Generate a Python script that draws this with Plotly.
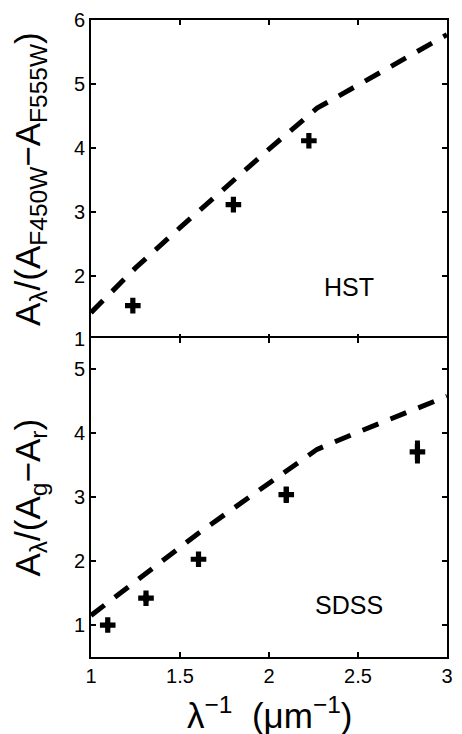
import plotly.graph_objects as go

# Measured reddening ratios (crosses)
hst_x = [1.235, 1.80, 2.224]
hst_y = [1.53, 3.11, 4.11]

sdss_x = [1.094, 1.309, 1.604, 2.097, 2.834]
sdss_y = [1.00, 1.42, 2.03, 3.04, 3.71]
sdss_err = [0.05, 0.06, 0.08, 0.13, 0.18]

# Extinction-law predictions (dashed curves)
hst_model_x = [1.0, 1.25, 1.5, 1.8, 2.0, 2.27, 2.5, 3.0]
hst_model_y = [1.42, 2.12, 2.75, 3.50, 3.98, 4.62, 4.98, 5.77]

sdss_model_x = [1.0, 1.3, 1.6, 2.0, 2.27, 2.5, 3.0]
sdss_model_y = [1.15, 1.80, 2.43, 3.22, 3.75, 4.02, 4.58]

FONT = "Liberation Sans, Arial, sans-serif"
dash_line = dict(color="black", width=5, dash="17px,13px")
cross = dict(symbol="cross", size=13, color="black", line=dict(width=0))

W, H = 462, 734
M = dict(l=91, r=9, t=15, b=77)
LW = 2
# axis lines sit outside the plot area; overlap the two panels by one
# line width so the shared border is drawn as a single line
half = (LW / 2) / (H - M["t"] - M["b"])

fig = go.Figure()

fig.add_trace(go.Scatter(x=hst_model_x, y=hst_model_y, mode="lines",
                         line=dash_line, xaxis="x", yaxis="y"))
fig.add_trace(go.Scatter(x=hst_x, y=hst_y, mode="markers",
                         marker=cross, xaxis="x", yaxis="y"))

fig.add_trace(go.Scatter(x=sdss_model_x, y=sdss_model_y, mode="lines",
                         line=dash_line, xaxis="x2", yaxis="y2"))
fig.add_trace(go.Scatter(x=sdss_x, y=sdss_y, mode="markers", marker=cross,
                         error_y=dict(type="data", array=sdss_err, thickness=5,
                                      width=0, color="black"),
                         xaxis="x2", yaxis="y2"))

axis_common = dict(showline=True, linecolor="black", linewidth=LW,
                   mirror="ticks", ticks="inside", ticklen=5, tickwidth=1.5,
                   tickcolor="black", showgrid=False, zeroline=False,
                   tickfont=dict(family=FONT, size=20, color="black"))

fig.update_layout(
    width=W, height=H,
    margin=M,
    paper_bgcolor="white", plot_bgcolor="white",
    showlegend=False,
    font=dict(family=FONT, color="black"),
    xaxis=dict(domain=[0, 1], anchor="y", range=[1, 3], dtick=0.5,
               showticklabels=False, **axis_common),
    yaxis=dict(domain=[0.5 - half, 1], anchor="x", range=[1, 6], dtick=1,
               **axis_common),
    xaxis2=dict(domain=[0, 1], anchor="y2", range=[1, 3], dtick=0.5,
                **axis_common),
    yaxis2=dict(domain=[0, 0.5 + half], anchor="x2", range=[0.5, 5.5],
                tickvals=[1, 2, 3, 4, 5], **axis_common),
)

label_font = dict(family=FONT, size=35, color="black")
fig.add_annotation(text="A<sub>λ</sub>/(A<sub>F450W</sub>−A<sub>F555W</sub>)",
                   xref="paper", yref="paper", x=-0.172, y=0.75,
                   xanchor="center", yanchor="middle", textangle=-90,
                   showarrow=False, font=label_font)
fig.add_annotation(text="A<sub>λ</sub>/(A<sub>g</sub>−A<sub>r</sub>)",
                   xref="paper", yref="paper", x=-0.172, y=0.25,
                   xanchor="center", yanchor="middle", textangle=-90,
                   showarrow=False, font=label_font)
fig.add_annotation(text="λ<sup>−1</sup>  (μm<sup>−1</sup>)",
                   xref="paper", yref="paper", x=0.5, y=-0.088,
                   xanchor="center", yanchor="middle",
                   showarrow=False, font=label_font)

panel_font = dict(family=FONT, size=25, color="black")
fig.add_annotation(text="HST", x=2.45, y=1.82, xref="x", yref="y",
                   showarrow=False, font=panel_font)
fig.add_annotation(text="SDSS", x=2.45, y=1.31, xref="x2", yref="y2",
                   showarrow=False, font=panel_font)

fig.write_html("out.html")
